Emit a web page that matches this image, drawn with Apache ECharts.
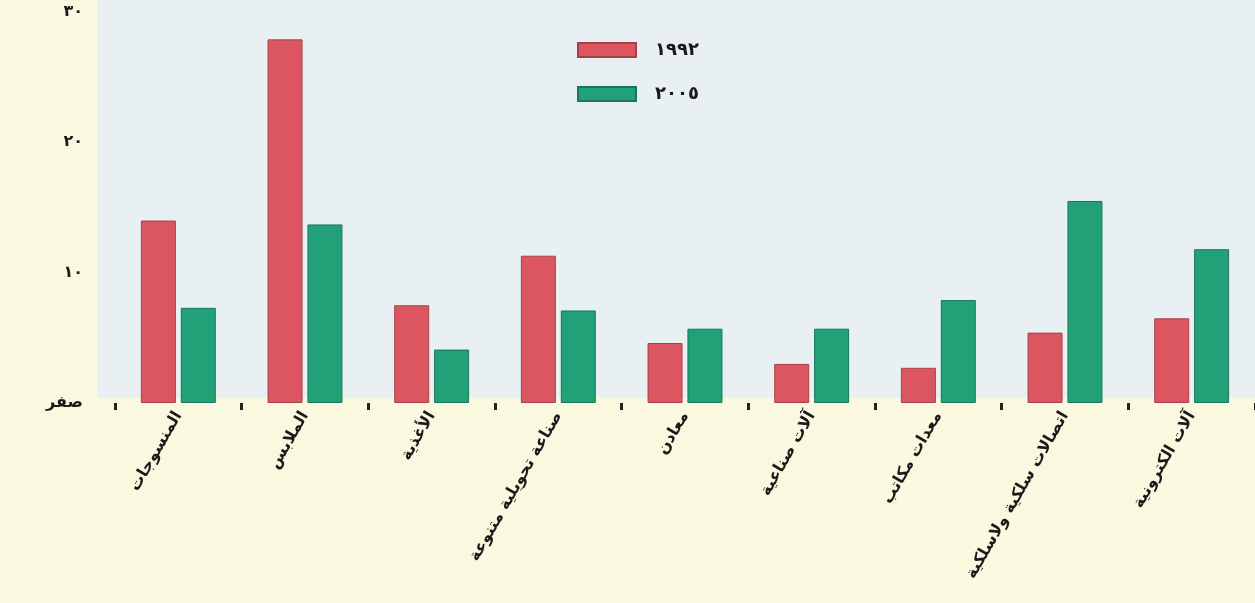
<!DOCTYPE html>
<html>
<head>
<meta charset="utf-8">
<script src="https://cdn.jsdelivr.net/npm/echarts@6/dist/echarts.min.js"></script>
<style>
  html, body { margin: 0; padding: 0; background: #fbf8e0; }
  #chart { width: 1255px; height: 603px; }
</style>
</head>
<body>
<div id="chart"></div>
<script>
// data
const categories = ['المنسوجات', 'الملابس', 'الأغذية', 'صناعة تحويلية متنوعة', 'معادن',
  'آلات صناعية', 'معدات مكاتب', 'اتصالات سلكية ولاسلكية', 'آلات الكترونية'];
const seriesNames = ['١٩٩٢', '٢٠٠٥'];
const values1992 = [14.0, 27.9, 7.5, 11.3, 4.6, 3.0, 2.7, 5.4, 6.5];
const values2005 = [7.3, 13.7, 4.1, 7.1, 5.7, 5.7, 7.9, 15.5, 11.8];
const yTickLabels = ['صفر', '١٠', '٢٠', '٣٠'];

const chart = echarts.init(document.getElementById('chart'));
const arabicFont = '"DejaVu Sans", sans-serif';

chart.setOption({
  backgroundColor: '#fbf8e0',
  animation: false,
  graphic: [{
    type: 'rect', z: -10, silent: true,
    shape: { x: 97, y: 0, width: 1160, height: 398 },
    style: { fill: '#e8f0f4' }
  }],
  legend: {
    orient: 'vertical',
    left: 572, top: 36,
    icon: 'rect',
    itemWidth: 58, itemHeight: 14, itemGap: 26,
    textStyle: { color: '#1a1a1a', fontSize: 18, fontWeight: 'bold', fontFamily: arabicFont, padding: [0, 0, 0, 14] },
    data: seriesNames
  },
  grid: { left: 115, top: 12, width: 1152, bottom: 200 },
  xAxis: {
    type: 'category',
    data: categories,
    axisLine: { show: false },
    axisTick: { show: true, length: 7, lineStyle: { color: '#222', width: 3 } },
    axisLabel: {
      rotate: 60, margin: 10,
      color: '#1a1a1a', fontSize: 16, fontWeight: 'bold', fontFamily: arabicFont
    }
  },
  yAxis: {
    type: 'value',
    min: 0, max: 30, interval: 10,
    axisLine: { show: false },
    axisTick: { show: false },
    splitLine: { show: false },
    axisLabel: {
      margin: 32,
      color: '#1a1a1a', fontSize: 16, fontWeight: 'bold', fontFamily: arabicFont,
      formatter: v => yTickLabels[Math.round(v / 10)]
    }
  },
  series: [
    {
      name: seriesNames[0], type: 'bar', data: values1992,
      barWidth: 35, barGap: '14%',
      itemStyle: { color: '#db5660', borderColor: '#a8404a', borderWidth: 1 }
    },
    {
      name: seriesNames[1], type: 'bar', data: values2005,
      barWidth: 35,
      itemStyle: { color: '#22a078', borderColor: '#17775a', borderWidth: 1 }
    }
  ]
});
</script>
</body>
</html>
